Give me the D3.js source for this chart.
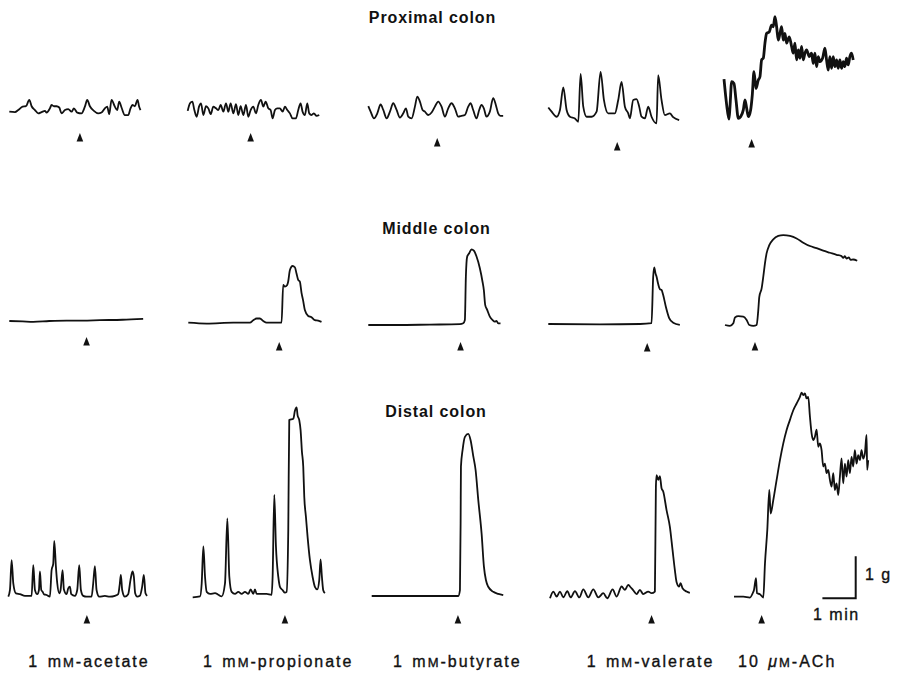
<!DOCTYPE html>
<html>
<head>
<meta charset="utf-8">
<script src="https://cdn.jsdelivr.net/npm/d3@7"></script>
<style>
  body { margin: 0; background: #fff; }
  text { font-family: "Liberation Sans", Arial, Helvetica, sans-serif; fill: #111; }
</style>
</head>
<body>
<div id="chart"></div>
<script>
// frame
const FRAME_WIDTH = 899;
const FRAME_HEIGHT = 675;

// recording scale: 1 min and 1 g in px
const MIN_PX = 33.3;
const G_PX = 42;

// ---- data: [time (min), tension (g)] relative to each trace's start / resting level
const regions = ["Proximal colon", "Middle colon", "Distal colon"];
const treatConc = ["1 m", "1 m", "1 m", "1 m", "10 "];
const treatName = ["acetate", "propionate", "butyrate", "valerate", "ACh"];

// time of addition (arrow), min
const proximalAdd = [2.12, 1.89, 2.07, 2.07, 0.83];
const middleAdd = [2.32, 2.73, 2.77, 2.97, 0.90];
const distalAdd = [2.36, 2.77, 2.59, 3.05, 0.83];

const proxAcetate = [[0,0],[0.17,-0.01],[0.27,0.04],[0.40,0.12],[0.50,0.13],[0.60,0.28],[0.67,0.13],[0.77,0.04],[0.87,-0.04],[0.97,-0.01],[1.07,0.02],[1.12,-0.02],[1.22,0.08],[1.27,0.16],[1.34,0.13],[1.42,0.13],[1.50,0.10],[1.57,-0.04],[1.67,0.04],[1.77,0.06],[1.87,0],[1.94,0.08],[2.04,-0.02],[2.17,-0.04],[2.27,0.12],[2.34,0.28],[2.42,0.13],[2.54,0.02],[2.67,-0.04],[2.77,-0.02],[2.87,0.08],[2.94,0.12],[3.00,-0.06],[3.07,0.28],[3.17,0.12],[3.24,0.04],[3.30,0.24],[3.37,0.10],[3.47,-0.08],[3.57,-0.08],[3.64,0.08],[3.70,0.16],[3.77,0.13],[3.85,0.28],[3.90,0.12],[3.94,0.04]];
const proxPropionate = [[0,0.02],[0.07,0.20],[0.14,0.24],[0.20,0.04],[0.27,-0.12],[0.34,0.12],[0.40,0.20],[0.47,-0.08],[0.55,0.13],[0.62,0.08],[0.69,-0.06],[0.77,0.12],[0.85,0.08],[0.92,0.04],[0.99,0.16],[1.07,0],[1.15,0.20],[1.22,0],[1.29,0.20],[1.37,-0.04],[1.45,0.18],[1.52,-0.08],[1.59,0.13],[1.67,-0.08],[1.75,0.16],[1.82,-0.12],[1.89,0.04],[1.97,0.12],[2.05,-0.04],[2.12,0.16],[2.20,0.28],[2.27,0.12],[2.34,0.24],[2.42,0.08],[2.49,0.04],[2.55,-0.16],[2.62,0.04],[2.69,0.08],[2.77,0.08],[2.85,0],[2.92,0.12],[2.99,0.04],[3.07,-0.04],[3.15,-0.16],[3.25,-0.16],[3.32,0.04],[3.39,0.20],[3.45,0],[3.52,-0.08],[3.59,0.20],[3.65,-0.04],[3.72,-0.08],[3.79,-0.04],[3.87,-0.10],[3.95,-0.08]];
const proxButyrate = [[0,0.25],[0.07,0.12],[0.17,-0.04],[0.27,0.08],[0.37,0.29],[0.45,0.16],[0.55,-0.04],[0.65,0.12],[0.75,0.32],[0.85,0.16],[0.95,-0.02],[1.05,0.08],[1.13,0.20],[1.20,0],[1.30,-0.04],[1.40,0.24],[1.47,0.48],[1.55,0.36],[1.63,0.16],[1.70,0.12],[1.80,0.04],[1.90,0.10],[2.00,0.24],[2.10,0.36],[2.20,0.24],[2.30,0],[2.40,0.20],[2.50,0.32],[2.60,0.20],[2.70,0],[2.80,0.02],[2.90,0.04],[3.00,0.24],[3.07,0.32],[3.15,0.16],[3.25,-0.04],[3.33,0.16],[3.40,0.28],[3.47,0.20],[3.55,0],[3.65,0.12],[3.75,0.44],[3.83,0.28],[3.90,0.08],[3.97,0.02],[4.05,0.02]];
const proxValerate = [[0,0.25],[0.10,0.15],[0.25,0.03],[0.35,0.19],[0.45,0.73],[0.55,0.19],[0.65,0.03],[0.80,-0.01],[0.90,-0.09],[0.97,1.05],[1.05,0.27],[1.15,0.03],[1.30,0.03],[1.45,0.15],[1.57,1.10],[1.67,0.43],[1.80,0.11],[2.00,0.11],[2.10,0.43],[2.20,0.86],[2.30,0.27],[2.40,0.11],[2.45,-0.01],[2.55,0.43],[2.65,0.45],[2.73,0.27],[2.80,0.03],[2.90,-0.01],[3.00,0.27],[3.10,0.03],[3.25,-0.13],[3.30,1.02],[3.40,0.43],[3.50,0.07],[3.65,0.11],[3.75,0.02],[3.93,-0.05]];
const proxACh = [[0,0.93],[0.08,0.32],[0.15,-0.02],[0.18,0.28],[0.23,0.87],[0.30,0.83],[0.36,0.44],[0.43,0],[0.50,0.04],[0.58,0.20],[0.63,0.44],[0.68,0.24],[0.73,0.04],[0.80,0.20],[0.85,0.56],[0.90,1.11],[0.96,0.71],[1.03,0.91],[1.08,0.99],[1.13,1.39],[1.18,1.43],[1.23,1.79],[1.28,2.02],[1.36,2.06],[1.43,2.22],[1.48,2.18],[1.53,2.42],[1.58,2.18],[1.63,1.86],[1.68,2.02],[1.73,2.18],[1.78,1.86],[1.83,2.02],[1.88,1.79],[1.96,1.94],[2.03,1.71],[2.08,1.55],[2.13,1.79],[2.18,1.39],[2.23,1.63],[2.28,1.43],[2.33,1.71],[2.38,1.39],[2.43,1.55],[2.48,1.63],[2.56,1.47],[2.63,1.55],[2.68,1.31],[2.73,1.55],[2.78,1.23],[2.83,1.47],[2.88,1.35],[2.96,1.43],[3.03,1.67],[3.08,1.39],[3.13,1.15],[3.18,1.47],[3.23,1.19],[3.28,1.47],[3.33,1.23],[3.38,1.39],[3.43,1.19],[3.48,1.39],[3.53,1.19],[3.58,1.35],[3.63,1.23],[3.68,1.43],[3.73,1.27],[3.78,1.47],[3.83,1.55],[3.88,1.39]];

const midAcetate = [[0,0],[0.40,-0.01],[0.72,-0.02],[1.20,0],[1.72,0.01],[2.20,0.01],[2.72,0.02],[3.40,0.03],[4.02,0.05]];
const midPropionate = [[0,0],[0.55,-0.02],[1.35,0],[1.85,0],[1.95,0.06],[2.05,0.10],[2.15,0.10],[2.25,0.04],[2.35,0],[2.80,0],[2.85,0.90],[2.90,0.86],[2.97,0.90],[3.00,0.98],[3.05,1.25],[3.13,1.35],[3.20,1.32],[3.25,1.17],[3.30,1.02],[3.35,0.98],[3.40,0.71],[3.45,0.52],[3.50,0.30],[3.60,0.16],[3.70,0.13],[3.80,0.06],[3.90,0.05],[4.00,0.02]];
const midButyrate = [[0,0],[0.85,0],[1.85,0.01],[2.75,0.02],[2.85,0.04],[2.90,0.12],[2.93,1.15],[2.97,1.63],[3.03,1.71],[3.10,1.80],[3.17,1.77],[3.25,1.63],[3.35,1.35],[3.43,1.03],[3.47,0.83],[3.51,0.48],[3.57,0.36],[3.65,0.20],[3.73,0.12],[3.80,0.08],[3.85,0.10],[3.90,0.04],[3.97,0.04]];
const midValerate = [[0,0],[1.55,-0.01],[2.75,0],[3.10,0.02],[3.15,1.13],[3.18,1.35],[3.22,1.20],[3.25,1.13],[3.30,0.95],[3.35,0.83],[3.40,0.81],[3.45,0.69],[3.53,0.41],[3.63,0.14],[3.75,0.03],[3.95,-0.02]];
const midACh = [[0,0],[0.15,-0.02],[0.25,0.04],[0.30,0.18],[0.40,0.21],[0.55,0.20],[0.65,0.12],[0.73,0],[0.85,-0.02],[0.95,0],[1.00,0.36],[1.03,0.67],[1.10,0.87],[1.15,1.15],[1.20,1.47],[1.25,1.71],[1.33,1.90],[1.45,2.04],[1.60,2.12],[1.75,2.14],[1.95,2.12],[2.15,2.06],[2.35,1.96],[2.55,1.88],[2.75,1.83],[2.95,1.77],[3.15,1.72],[3.35,1.67],[3.50,1.64],[3.55,1.60],[3.60,1.64],[3.65,1.58],[3.72,1.61],[3.77,1.55],[3.85,1.56],[3.97,1.53]];

const distAcetate = [[0,0],[0.05,0.16],[0.10,0.87],[0.15,0.32],[0.23,0.08],[0.35,0.06],[0.50,0.02],[0.70,0.02],[0.75,0.75],[0.80,0.16],[0.87,0.06],[0.92,0.16],[0.95,0.60],[0.99,0.16],[1.03,0.12],[1.07,0.06],[1.15,0.04],[1.25,0],[1.30,0.63],[1.35,0.79],[1.38,1.33],[1.43,0.71],[1.47,0.32],[1.53,0.08],[1.57,0.16],[1.63,0.63],[1.67,0.17],[1.75,0.06],[1.80,0.20],[1.85,0.24],[1.89,0.06],[2.00,0.02],[2.07,0.16],[2.13,0.75],[2.18,0.16],[2.25,0.02],[2.35,0],[2.50,0],[2.55,0.32],[2.60,0.73],[2.65,0.16],[2.73,0],[2.90,0.02],[3.05,0],[3.20,0.02],[3.30,0.06],[3.35,0.32],[3.38,0.52],[3.42,0.16],[3.50,0],[3.60,0.06],[3.67,0.40],[3.73,0.60],[3.77,0.48],[3.81,0.08],[3.87,0],[3.95,0.02],[4.02,0.24],[4.07,0.52],[4.12,0.08],[4.17,0.02]];
const distPropionate = [[0,0],[0.22,0.02],[0.27,0.33],[0.32,1.21],[0.37,0.49],[0.42,0.13],[0.52,0.08],[0.67,0.10],[0.77,0.06],[0.87,0.02],[0.97,0.33],[1.04,1.88],[1.10,0.49],[1.17,0.13],[1.27,0.08],[1.37,0.13],[1.47,0.08],[1.57,0.13],[1.67,0.08],[1.74,0.19],[1.82,0.08],[1.87,0.19],[1.92,0.08],[2.22,0.08],[2.37,0.06],[2.40,0.49],[2.45,2.44],[2.50,1.21],[2.57,0.49],[2.62,0.25],[2.70,0.17],[2.77,0.11],[2.82,0.13],[2.87,1.60],[2.90,4.22],[3.02,4.25],[3.07,4.44],[3.12,4.52],[3.15,4.33],[3.20,4.22],[3.24,3.98],[3.28,3.47],[3.32,3.11],[3.35,2.40],[3.40,1.92],[3.45,1.44],[3.52,0.89],[3.60,0.49],[3.67,0.25],[3.74,0.19],[3.80,0.41],[3.84,0.90],[3.88,0.49],[3.92,0.17],[3.97,0.10]];
const distButyrate = [[0,0],[0.75,0],[1.75,0],[2.60,0],[2.65,0.14],[2.67,1.73],[2.68,3.08],[2.73,3.48],[2.80,3.79],[2.90,3.86],[2.97,3.71],[3.05,3.33],[3.12,3.00],[3.20,2.29],[3.30,1.49],[3.37,0.70],[3.43,0.38],[3.50,0.22],[3.65,0.10],[3.80,0.05],[3.95,0.02]];
const distValerate = [[0,-0.03],[0.10,0.13],[0.20,0.01],[0.30,0.13],[0.40,-0.01],[0.52,0.14],[0.62,-0.01],[0.75,0.14],[0.88,-0.01],[1.00,0.18],[1.15,-0.01],[1.30,0.18],[1.45,-0.01],[1.60,0.09],[1.72,-0.03],[1.88,0.18],[2.00,0.01],[2.15,0.25],[2.25,0.17],[2.35,0.29],[2.40,0.25],[2.49,0.17],[2.60,0.07],[2.70,0.17],[2.80,0.07],[2.95,0.13],[3.05,0.09],[3.15,0.13],[3.18,2.63],[3.20,2.90],[3.25,2.79],[3.30,2.88],[3.35,2.59],[3.40,2.51],[3.50,2.07],[3.60,1.67],[3.68,1.12],[3.75,0.64],[3.80,0.36],[3.88,0.25],[3.92,0.33],[3.98,0.21],[4.10,0.13],[4.20,0.10]];
const distACh = [[0,0],[0.28,0],[0.48,-0.02],[0.56,0.08],[0.60,0.16],[0.66,0.44],[0.69,0.08],[0.78,0.06],[0.88,-0.02],[0.93,0.79],[1.00,1.59],[1.06,2.54],[1.10,1.98],[1.18,2.30],[1.28,2.78],[1.38,3.25],[1.48,3.65],[1.58,3.97],[1.68,4.21],[1.78,4.44],[1.88,4.60],[1.98,4.76],[2.03,4.86],[2.08,4.80],[2.13,4.84],[2.18,4.72],[2.23,4.76],[2.28,4.29],[2.33,3.89],[2.38,3.73],[2.43,3.81],[2.48,3.98],[2.53,3.57],[2.58,3.65],[2.63,3.49],[2.68,3.10],[2.73,3.17],[2.78,2.94],[2.83,3.02],[2.88,2.78],[2.93,2.62],[2.98,2.94],[3.03,2.54],[3.08,2.70],[3.13,2.42],[3.18,2.86],[3.23,3.29],[3.28,2.70],[3.33,3.17],[3.38,2.86],[3.43,3.25],[3.48,2.94],[3.53,3.33],[3.58,3.10],[3.63,3.49],[3.68,3.17],[3.73,3.37],[3.78,3.25],[3.83,3.49],[3.88,3.29],[3.93,3.41],[3.98,3.85],[4.00,3.02],[4.03,3.25]];

const traces = [
  [proxAcetate, proxPropionate, proxButyrate, proxValerate, proxACh],
  [midAcetate, midPropionate, midButyrate, midValerate, midACh],
  [distAcetate, distPropionate, distButyrate, distValerate, distACh]
];
const additions = [proximalAdd, middleAdd, distalAdd];

// ---- layout (px): trace origin and arrow tip per panel
const PANEL_X = [[9.3, 187.7, 368.3, 548.3, 724], [9.3, 188.3, 368.3, 548.3, 725], [8.3, 192.7, 371.7, 550, 734]];
const PANEL_Y = [[111.7, 111.7, 116.7, 118, 118.3], [321, 322.7, 325, 324, 325], [596.7, 597.3, 596, 597, 596.7]];
const ARROW_Y = [[133, 133, 138, 142, 139], [337, 342, 342, 343, 342], [615, 615, 615, 615, 615]];
const TITLE_POS = [[432.5, 23], [436.5, 234], [436, 417]];
const LABEL_X = [28.3, 203, 393, 586.7, 738];
const LABEL_Y = 667;

const svg = d3.select("#chart")
  .append("svg")
  .attr("width", FRAME_WIDTH)
  .attr("height", FRAME_HEIGHT);

// region titles
svg.selectAll(".title")
  .data(regions)
  .enter()
  .append("text")
  .attr("class", "title")
  .attr("x", (d, i) => TITLE_POS[i][0])
  .attr("y", (d, i) => TITLE_POS[i][1])
  .attr("text-anchor", "middle")
  .attr("font-size", "16px")
  .attr("font-weight", "bold")
  .attr("letter-spacing", "0.9px")
  .text(d => d);

// draw each trace with its own scales
traces.forEach((row, r) => {
  row.forEach((data, c) => {
    const x = d3.scaleLinear().domain([0, 1]).range([PANEL_X[r][c], PANEL_X[r][c] + MIN_PX]);
    const y = d3.scaleLinear().domain([0, 1]).range([PANEL_Y[r][c], PANEL_Y[r][c] - G_PX]);

    const line = d3.line()
      .x(d => x(d[0]))
      .y(d => y(d[1]))
      .curve(d3.curveMonotoneX);

    svg.append("path")
      .datum(data)
      .attr("d", line)
      .attr("fill", "none")
      .attr("stroke", "#111")
      .attr("stroke-width", (r === 0 && c === 4) ? 2.8 : 1.8)
      .attr("stroke-linejoin", "round");

    // arrow: time of addition
    const ax = x(additions[r][c]);
    const ay = ARROW_Y[r][c];
    svg.append("path")
      .attr("d", `M${ax},${ay} L${ax - 3.3},${ay + 8.5} L${ax + 3.3},${ay + 8.5} Z`)
      .attr("fill", "#111");
  });
});

// treatment labels (small-capital M)
const labels = svg.selectAll(".label")
  .data(treatName)
  .enter()
  .append("text")
  .attr("class", "label")
  .attr("x", (d, i) => LABEL_X[i])
  .attr("y", LABEL_Y)
  .attr("font-size", "16px")
  .attr("letter-spacing", "2px")
  .attr("word-spacing", "2px")
  .attr("stroke", "#111")
  .attr("stroke-width", 0.35);
labels.append("tspan").text((d, i) => treatConc[i]);
labels.filter((d, i) => i === 4).append("tspan").attr("font-style", "italic").text("\u03bc");
labels.append("tspan").attr("font-size", "13px").text("M");
labels.append("tspan").text(d => "-" + d);

// scale bar from the same recording scale
const sbX = d3.scaleLinear().domain([0, 1]).range([855.7 - MIN_PX, 855.7]);
const sbY = d3.scaleLinear().domain([0, 1]).range([598.3, 598.3 - G_PX]);
svg.append("path")
  .attr("d", `M${sbX(0)},${sbY(0)} L${sbX(1)},${sbY(0)} L${sbX(1)},${sbY(1)}`)
  .attr("fill", "none")
  .attr("stroke", "#111")
  .attr("stroke-width", 2);
svg.append("text")
  .attr("x", 865)
  .attr("y", 580)
  .attr("font-size", "16px")
  .attr("letter-spacing", "1.5px")
  .attr("stroke", "#111")
  .attr("stroke-width", 0.35)
  .text("1 g");
svg.append("text")
  .attr("x", 813)
  .attr("y", 620)
  .attr("font-size", "16px")
  .attr("letter-spacing", "1.5px")
  .attr("stroke", "#111")
  .attr("stroke-width", 0.35)
  .text("1 min");
</script>
</body>
</html>
